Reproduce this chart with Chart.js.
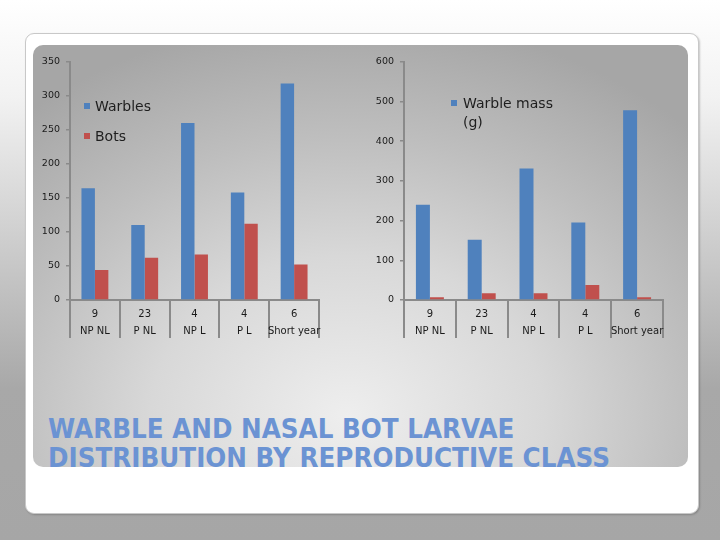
<!DOCTYPE html>
<html>
<head>
<meta charset="utf-8">
<script src="https://cdn.jsdelivr.net/npm/chart.js@4/dist/chart.umd.min.js"></script>
<style>
  html, body { margin: 0; padding: 0; }
  body {
    width: 720px; height: 540px; position: relative; overflow: hidden;
    background: linear-gradient(#ffffff 0%, #f2f2f2 18%, #a8a8a8 72%, #a6a6a6 100%);
    font-family: "DejaVu Sans", Verdana, sans-serif;
  }
  #card {
    position: absolute; left: 25px; top: 33px; width: 672px; height: 479px;
    background: #fff; border: 1px solid #c8c8c8; border-radius: 9px;
    box-shadow: 1px 1px 2px rgba(0,0,0,0.2);
  }
  #panel {
    position: absolute; left: 33px; top: 45px; width: 655px; height: 422px;
    border-radius: 10px;
    background: radial-gradient(ellipse 75% 95% at 48% 88%, #eeeeee 0%, #d8d8d8 40%, #bebebe 70%, #a6a6a6 100%);
  }
  canvas { position: absolute; }
  .leg { position: absolute; font-size: 14px; color: #1e1e1e; line-height: 16px; white-space: nowrap; }
  .sw { position: absolute; width: 6px; height: 6px; }
  #title {
    position: absolute; left: 48px; top: 415px; font-weight: bold; font-size: 26px;
    line-height: 29px; color: #6b93d3; white-space: nowrap; transform-origin: left top;
  }
</style>
</head>
<body>
<div id="card"></div>
<div id="panel"></div>
<canvas id="left" width="300" height="295" style="left:30px;top:50px"></canvas>
<canvas id="right" width="310" height="295" style="left:364px;top:50px"></canvas>

<div class="sw" style="left:84px;top:103px;background:#4f81bd"></div>
<div class="leg" style="left:95px;top:98px">Warbles</div>
<div class="sw" style="left:84px;top:133px;background:#c0504d"></div>
<div class="leg" style="left:95px;top:128px">Bots</div>

<div class="sw" style="left:451px;top:100px;background:#4f81bd"></div>
<div class="leg" style="left:463px;top:95px">Warble mass<br><span style="display:inline-block;margin-top:3px">(g)</span></div>

<div id="title"><span id="t1">WARBLE AND NASAL BOT LARVAE</span><br><span id="t2">DISTRIBUTION BY REPRODUCTIVE CLASS</span></div>

<script>
// Datos
const counts = ['9', '23', '4', '4', '6'];
const classes = ['NP NL', 'P NL', 'NP L', 'P L', 'Short year'];
const warbles = [164, 110, 260, 158, 318];
const bots = [44, 62, 67, 112, 52];
const warbleMass = [240, 152, 331, 195, 478];
const botMass = [7, 17, 17, 38, 7];

const BLUE = '#4f81bd';
const RED = '#c0504d';
const AXIS = '#8a8a8a';

const labels = counts.map((c, i) => [c, classes[i]]);

function makeChart(id, datasets, max, step) {
  const ctx = document.getElementById(id).getContext('2d');
  return new Chart(ctx, {
    type: 'bar',
    data: { labels, datasets },
    options: {
      responsive: false,
      animation: false,
      layout: { padding: { top: 10, right: 11, left: 0, bottom: 0 } },
      plugins: { legend: { display: false }, tooltip: { enabled: false } },
      datasets: { bar: { barPercentage: 1, categoryPercentage: 0.54 } },
      scales: {
        x: {
          grid: { offset: true, drawOnChartArea: false, tickLength: 38, color: AXIS, lineWidth: 2 },
          border: { color: AXIS, width: 2 },
          ticks: {
            color: '#1a1a1a', padding: -32, maxRotation: 0, autoSkip: false,
            font: { family: 'DejaVu Sans', size: 10, lineHeight: 1.7 },
          },
          afterFit: (s) => { s.height = 45; },
        },
        y: {
          min: 0, max,
          grid: { drawOnChartArea: false, tickLength: 4, color: AXIS, lineWidth: 1.5 },
          border: { color: AXIS, width: 2 },
          ticks: { stepSize: step, color: '#1a1a1a', padding: 6, font: { family: 'DejaVu Sans', size: 9.5 } },
          afterFit: (s) => { s.width = 40; },
        },
      },
    },
  });
}

makeChart('left', [
  { label: 'Warbles', data: warbles, backgroundColor: BLUE },
  { label: 'Bots', data: bots, backgroundColor: RED },
], 350, 50);

makeChart('right', [
  { label: 'Warble mass (g)', data: warbleMass, backgroundColor: BLUE },
  { label: '', data: botMass, backgroundColor: RED },
], 600, 100);

// ajustar el ancho del título
const t2 = document.getElementById('t2').getBoundingClientRect().width;
document.getElementById('title').style.transform = 'scaleX(' + (562 / t2) + ')';
</script>
</body>
</html>
